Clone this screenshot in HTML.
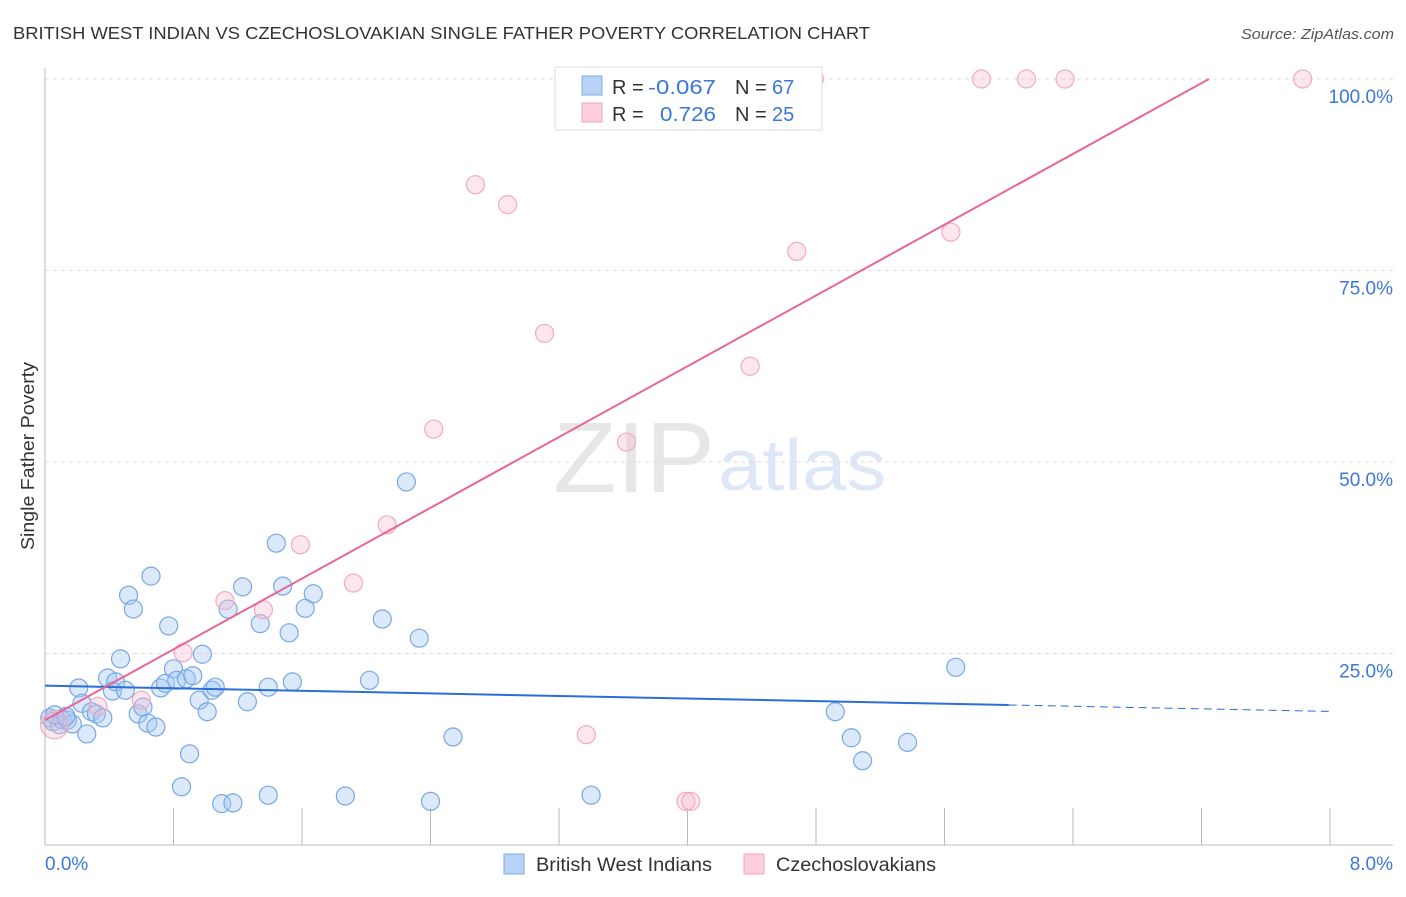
<!DOCTYPE html>
<html><head><meta charset="utf-8"><style>
body{margin:0;background:#fff;font-family:"Liberation Sans",sans-serif;}
svg text{font-family:"Liberation Sans",sans-serif;}
</style></head><body>
<svg id="chart" width="1406" height="892" viewBox="0 0 1406 892" xmlns="http://www.w3.org/2000/svg">
<text x="13" y="39" font-size="17.5" fill="#333" textLength="857" lengthAdjust="spacingAndGlyphs">BRITISH WEST INDIAN VS CZECHOSLOVAKIAN SINGLE FATHER POVERTY CORRELATION CHART</text>
<text x="1241" y="39" font-size="14.5" fill="#555" font-style="italic" textLength="153" lengthAdjust="spacingAndGlyphs">Source: ZipAtlas.com</text>
<text x="553" y="492" font-size="100" fill="#d8d8d8" font-family="Liberation Serif" opacity="0.6" textLength="162" lengthAdjust="spacingAndGlyphs">ZIP</text>
<text x="718" y="490" font-size="72" fill="#c8d8f0" opacity="0.6" textLength="168" lengthAdjust="spacingAndGlyphs">atlas</text>
<text transform="translate(34,456) rotate(-90)" font-size="18" fill="#333" text-anchor="middle" textLength="188" lengthAdjust="spacingAndGlyphs">Single Father Poverty</text>
<g id="grid"></g><g id="axes"></g><g id="marks"></g><g id="lines"></g>
<g>
<rect x="555" y="67" width="267" height="63" fill="#fff" stroke="#ddd"/>
<rect x="582" y="76" width="20" height="19" fill="#b8d2f6" stroke="#7eaae6"/>
<rect x="582" y="103" width="20" height="19" fill="#fbd0dc" stroke="#f0a4bc"/>
<text x="612" y="94" font-size="20" fill="#333">R = </text>
<text x="648" y="94" font-size="20" fill="#3b78d8" textLength="68" lengthAdjust="spacingAndGlyphs">-0.067</text>
<text x="735" y="94" font-size="20" fill="#333">N = </text>
<text x="772" y="94" font-size="20" fill="#3b78d8">67</text>
<text x="612" y="121" font-size="20" fill="#333">R = </text>
<text x="660" y="121" font-size="20" fill="#3b78d8" textLength="56" lengthAdjust="spacingAndGlyphs">0.726</text>
<text x="735" y="121" font-size="20" fill="#333">N = </text>
<text x="772" y="121" font-size="20" fill="#3b78d8">25</text>
</g>
<g>
<rect x="504" y="854" width="20" height="20" fill="#b8d2f6" stroke="#7eaae6"/>
<text x="536" y="871" font-size="19" fill="#333" textLength="176" lengthAdjust="spacingAndGlyphs">British West Indians</text>
<rect x="744" y="854" width="20" height="20" fill="#fbd0dc" stroke="#f0a4bc"/>
<text x="776" y="871" font-size="19" fill="#333" textLength="160" lengthAdjust="spacingAndGlyphs">Czechoslovakians</text>
</g>
</svg>
<script>
const blueX=[0.03,0.05,0.09,0.11,0.14,0.17,0.21,0.23,0.26,0.29,0.32,0.36,0.39,0.42,0.44,0.47,0.50,0.52,0.55,0.58,0.61,0.64,0.66,0.69,0.72,0.75,0.77,0.80,0.82,0.85,0.88,0.90,0.92,0.96,0.98,1.01,1.04,1.06,1.10,1.14,1.17,1.23,1.26,1.34,1.39,1.39,1.44,1.48,1.52,1.54,1.62,1.67,1.87,2.02,2.10,2.25,2.33,2.40,2.54,3.40,4.92,5.02,5.09,5.37,5.67,0.06,0.13];
const blueY=[16.6,16.1,15.7,16.3,16.3,15.8,20.5,18.5,14.5,17.4,17.1,16.6,21.8,20.1,21.3,24.3,20.2,32.6,30.8,17.1,18.0,15.9,35.1,15.4,20.5,21.1,28.6,23.0,21.5,7.6,21.7,11.9,22.1,18.9,24.9,17.4,20.2,20.6,5.4,30.8,5.5,33.7,18.7,28.9,6.5,20.6,39.4,33.8,27.7,21.3,30.9,32.8,6.4,21.5,29.5,47.4,27.0,5.7,14.1,6.5,17.4,14.0,11.0,13.4,23.2,17.0,16.8];
const pinkX=[0.06,0.33,0.60,0.86,1.12,1.36,1.59,1.92,2.13,2.42,2.68,2.88,3.11,3.37,3.62,3.99,4.02,4.39,4.68,4.79,5.64,5.83,6.11,6.35,7.83];
const pinkY=[15.7,18.1,18.9,25.1,31.9,30.7,39.2,34.2,41.8,54.3,86.2,83.6,66.8,14.4,52.6,5.7,5.7,62.5,77.5,100,80.0,100,100,100,100];
const pinkR=[14,9,9,9,9,9,9,9,9,9,9,9,9,9,9,9,9,9,9,9,9,9,9,9,9];
const blueTrend=[20.8,-0.42]; // intercept, slope
const pinkTrend=[16.3,11.55];
const yTicks=[25,50,75,100];
const yTickLabels=["25.0%","50.0%","75.0%","100.0%"];
const xTicks=[0,0.8,1.6,2.4,3.2,4.0,4.8,5.6,6.4,7.2,8.0];
const xs=v=>45+v/8*1285, ys=v=>845-v/100*766;
const NS="http://www.w3.org/2000/svg";
function mk(p,t,a){const e=document.createElementNS(NS,t);for(const k in a)e.setAttribute(k,a[k]);p.appendChild(e);return e;}
const grid=document.getElementById('grid'),axes=document.getElementById('axes'),marks=document.getElementById('marks'),lines=document.getElementById('lines');
yTicks.forEach((v,i)=>{
 const l=mk(grid,'line',{x1:45,x2:1393,y1:ys(v),y2:ys(v),stroke:'#ddd','stroke-dasharray':'4,4'});
 
 
 const t=mk(grid,'text',{x:1393,y:ys(v)+24,'font-size':19,fill:'#3b78d8','text-anchor':'end'});
 t.textContent=yTickLabels[i];
 
 
});
const ya=mk(axes,'line',{x1:45,x2:45,y1:68,y2:845,stroke:'#bbb'});


const xa=mk(axes,'line',{x1:45,x2:1393,y1:845,y2:845,stroke:'#bbb'});


xTicks.forEach(v=>{const t=mk(axes,'line',{x1:xs(v),x2:xs(v),y1:808,y2:845,stroke:'#bbb'});
 
 });
const x0=mk(axes,'text',{x:45,y:870,'font-size':19,fill:'#3b78d8'});x0.textContent='0.0%';


const x1=mk(axes,'text',{x:1393,y:870,'font-size':19,fill:'#3b78d8','text-anchor':'end'});x1.textContent='8.0%';


blueX.forEach((v,i)=>{const c=mk(marks,'circle',{cx:xs(v),cy:ys(blueY[i]),r:9,fill:'rgba(165,200,245,0.4)',stroke:'#78a8e4','stroke-width':1.2});
 
 });
pinkX.forEach((v,i)=>{const c=mk(marks,'circle',{cx:xs(v),cy:ys(pinkY[i]),r:pinkR[i],fill:'rgba(248,185,205,0.35)',stroke:'#f2aac0','stroke-width':1.2});
 
 });
const bl=mk(lines,'line',{x1:xs(0),y1:ys(blueTrend[0]),x2:xs(6),y2:ys(blueTrend[0]+6*blueTrend[1]),stroke:'#2a6fd6','stroke-width':2});


const bd=mk(lines,'line',{x1:xs(6),y1:ys(blueTrend[0]+6*blueTrend[1]),x2:xs(8),y2:ys(blueTrend[0]+8*blueTrend[1]),stroke:'#2a6fd6','stroke-width':1,'stroke-dasharray':'8,5'});


const xe=(100-pinkTrend[0])/pinkTrend[1];
const pl=mk(lines,'line',{x1:xs(0),y1:ys(pinkTrend[0]),x2:xs(xe),y2:ys(100),stroke:'#e8659a','stroke-width':2});


</script>
</body></html>
